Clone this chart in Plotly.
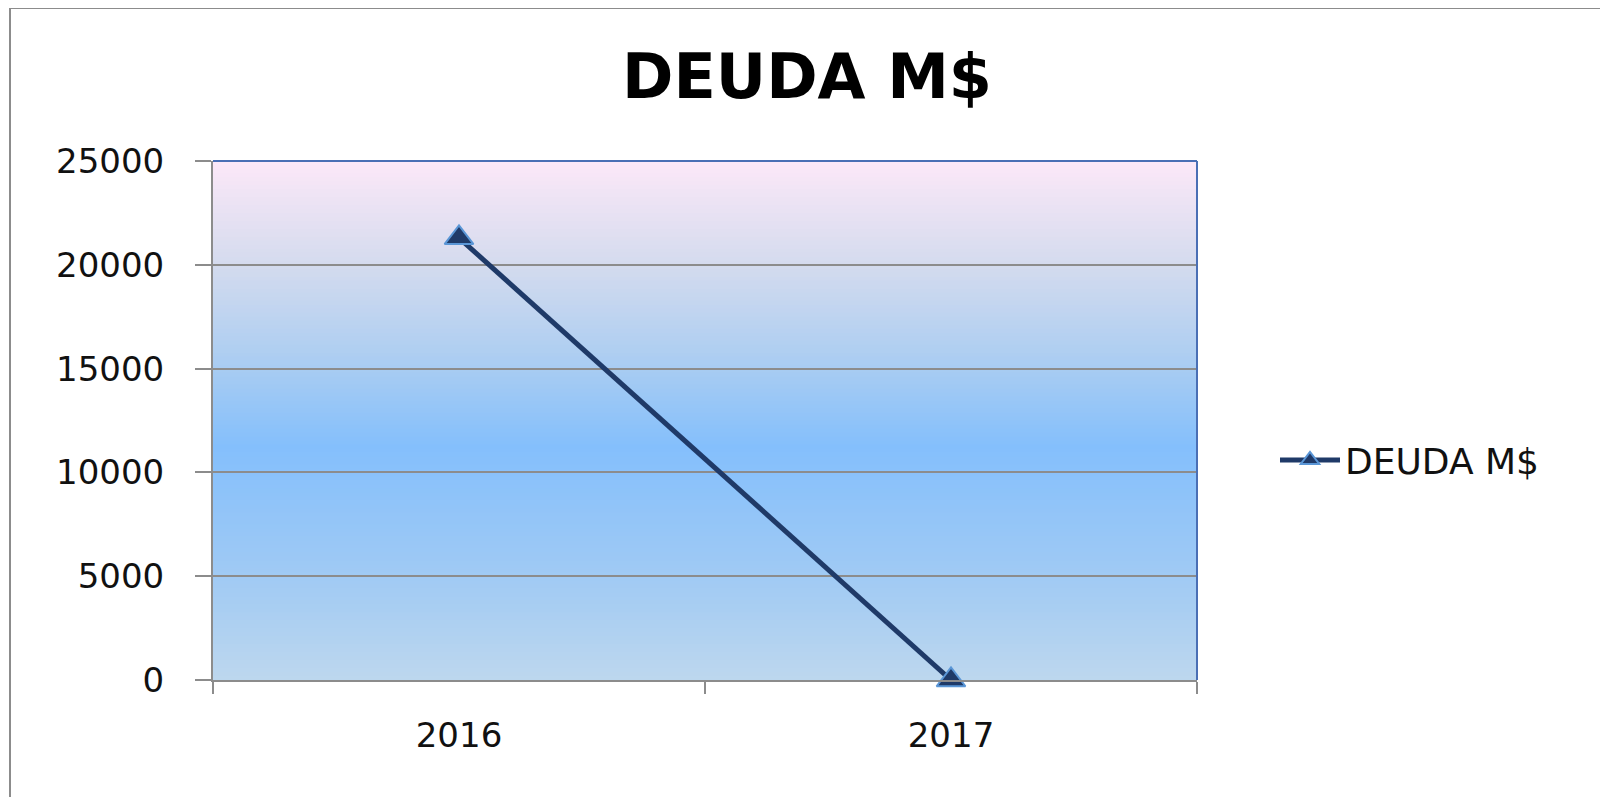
import plotly.graph_objects as go

categories = ["2016", "2017"]
deuda = [21300, 0]
series_name = "DEUDA M$"
title_text = "DEUDA M$"
y_ticks = [0, 5000, 10000, 15000, 20000, 25000]

# background gradient stops (paper y fraction -> rgb)
grad_stops = [
    (0.0, (189, 215, 238)),
    (0.2, (160, 202, 244)),
    (0.45, (132, 191, 252)),
    (0.6, (168, 204, 242)),
    (0.8, (212, 219, 238)),
    (1.0, (252, 232, 248)),
]

def grad_color(t):
    for (t0, c0), (t1, c1) in zip(grad_stops[:-1], grad_stops[1:]):
        if t0 <= t <= t1:
            f = (t - t0) / (t1 - t0)
            c = [round(a + (b - a) * f) for a, b in zip(c0, c1)]
            return "rgb(%d,%d,%d)" % tuple(c)
    return "rgb(%d,%d,%d)" % grad_stops[-1][1]

# page body has an 8px margin: figure is placed at (8, 8) on screen
OFF = 8
W, H = 1608 - OFF, 797 - OFF
PL, PT, PW, PH = 213, 161, 984, 519  # plot area on screen

shapes = []
n = 130
for i in range(n):
    y0 = i / n
    y1 = (i + 1) / n
    shapes.append(dict(type="rect", xref="paper", yref="paper", x0=0, x1=1,
                       y0=y0, y1=y1 + 0.002, fillcolor=grad_color((y0 + y1) / 2),
                       line=dict(width=0), layer="below"))
# plot area top/right border (blue)
shapes.append(dict(type="line", xref="paper", yref="paper", x0=0, x1=1, y0=1, y1=1,
                   line=dict(color="#4A6FB5", width=2)))
shapes.append(dict(type="line", xref="paper", yref="paper", x0=1, x1=1, y0=0, y1=1,
                   line=dict(color="#4A6FB5", width=2)))
# outer chart border
shapes.append(dict(type="rect", xref="paper", yref="paper",
                   x0=(10 - PL) / PW, x1=(1606 - PL) / PW,
                   y0=(PT + PH - 820) / PH, y1=(PT + PH - 8) / PH,
                   line=dict(color="#8C8C8C", width=2), fillcolor="rgba(0,0,0,0)"))

fig = go.Figure()
fig.add_trace(go.Scatter(
    x=categories, y=deuda, name=series_name, mode="lines+markers",
    line=dict(color="#1F3A68", width=5),
    marker=dict(symbol="triangle-up", size=25, color="#1F3A68",
                line=dict(color="#5A96D6", width=2)),
    cliponaxis=False,
))

fig.update_layout(
    width=W, height=H,
    margin=dict(l=PL - OFF, r=W - (PL - OFF) - PW, t=PT - OFF, b=H - (PT - OFF) - PH),
    paper_bgcolor="white",
    plot_bgcolor="rgba(0,0,0,0)",
    title=dict(text="<b>%s</b>" % title_text, x=(807 - OFF) / W, xanchor="center",
               y=1 - (76 - OFF) / H, yanchor="middle",
               font=dict(family="DejaVu Sans", size=62, color="black")),
    shapes=shapes,
    showlegend=True,
    legend=dict(x=(1275 - PL) / PW, xanchor="left", y=(PT + PH - 460) / PH, yanchor="middle",
                font=dict(family="DejaVu Sans", size=36, color="#111111"),
                bgcolor="rgba(0,0,0,0)", itemwidth=60),
    xaxis=dict(type="category", range=[-0.5, 1.5], tickson="boundaries",
               ticks="outside", ticklen=12, tickcolor="#8C8C8C", tickwidth=2,
               ticklabelstandoff=24,
               showline=True, linecolor="#8C8C8C", linewidth=2,
               showgrid=False, zeroline=False,
               tickfont=dict(family="DejaVu Sans", size=34, color="#111111")),
    yaxis=dict(range=[0, 25000], tickvals=y_ticks, ticktext=[str(v) for v in y_ticks],
               ticks="outside", ticklen=16, tickcolor="#8C8C8C", tickwidth=2,
               ticklabelstandoff=24,
               showline=True, linecolor="#8C8C8C", linewidth=2,
               showgrid=True, gridcolor="#8C8C8C", gridwidth=2, zeroline=False,
               tickfont=dict(family="DejaVu Sans", size=34, color="#111111")),
)

fig.write_html("out.html")
